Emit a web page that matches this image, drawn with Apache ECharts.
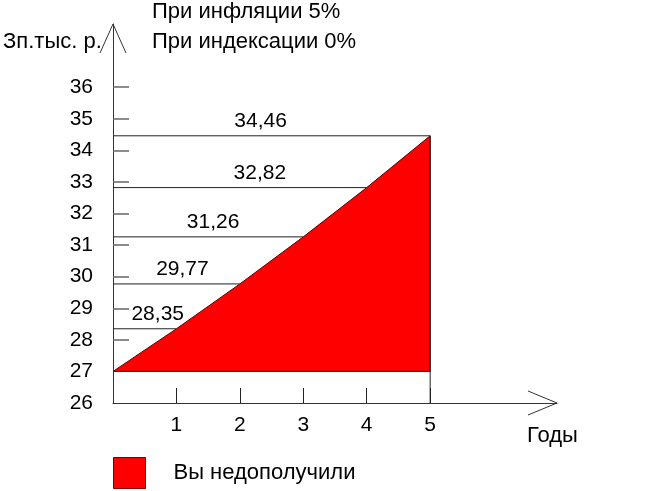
<!DOCTYPE html>
<html><head><meta charset="utf-8">
<script src="https://cdn.jsdelivr.net/npm/echarts@6/dist/echarts.min.js"></script>
<style>html,body{margin:0;padding:0;background:#fff}#c{width:650px;height:491px}</style>
</head><body><div id="c"></div>
<script>
// ---- data ----
const years = [0, 1, 2, 3, 4, 5];
const salary = [27, 28.35, 29.77, 31.26, 32.82, 34.46];
const valueLabels = ['', '28,35', '29,77', '31,26', '32,82', '34,46'];
const yTickLabels = [26, 27, 28, 29, 30, 31, 32, 33, 34, 35, 36];
const yTickMarks = [28, 29, 30, 31, 32, 33, 34, 35, 36];
const xTickLabels = [1, 2, 3, 4, 5];
const subtitle1 = 'При инфляции 5%';
const subtitle2 = 'При индексации 0%';
const yName = 'Зп.тыс. р.';
const xName = 'Годы';
const legendName = 'Вы недополучили';

// ---- styles ----
const FONT = "'Liberation Sans', Arial, sans-serif";
const labelDx = [0, 13, 6, 5, 20, -11];
const chart = echarts.init(document.getElementById('c'), null, {renderer: 'canvas'});

const levelData = years.map((y, i) => [y, salary[i]]).slice(1);

chart.setOption({
  animation: false,
  grid: {left: 113, right: 93, top: 24, bottom: 88},
  xAxis: {
    type: 'value', min: 0, max: 7, interval: 1,
    axisLine: {lineStyle: {color: '#333', width: 1}},
    axisTick: {inside: true, length: 15, customValues: xTickLabels, lineStyle: {color: '#222'}},
    axisLabel: {customValues: xTickLabels, margin: 12, fontSize: 21, color: '#000', fontFamily: FONT},
    splitLine: {show: false}
  },
  yAxis: {
    type: 'value', min: 26, max: 38, interval: 1,
    axisLine: {show: true, lineStyle: {color: '#333', width: 1}},
    axisTick: {show: true, inside: true, length: 16, customValues: yTickMarks, lineStyle: {color: '#666', width: 1.5}},
    axisLabel: {customValues: yTickLabels, margin: 20, fontSize: 21, color: '#000', fontFamily: FONT},
    splitLine: {show: false}
  },
  legend: {
    left: 108, top: 452, itemWidth: 32, itemHeight: 31,
    data: [{name: legendName, icon: 'rect', itemStyle: {color: '#ff0000', borderColor: '#7a0000', borderWidth: 1}}],
    textStyle: {fontSize: 22, color: '#000', fontFamily: FONT, padding: [0, 0, 0, 23]}
  },
  graphic: [
    {type: 'text', left: 152, top: 1, style: {text: subtitle1, fill: '#000', font: '22px ' + FONT}},
    {type: 'text', left: 152, top: 31, style: {text: subtitle2, fill: '#000', font: '22px ' + FONT}},
    {type: 'text', left: 3, top: 31, style: {text: yName, fill: '#000', font: '22px ' + FONT}},
    {type: 'text', left: 527, top: 425, style: {text: xName, fill: '#000', font: '22px ' + FONT}}
  ],
  series: [
    {
      name: legendName, type: 'custom', z: 2,
      data: [[0, 27]],
      renderItem: function (params, api) {
        const pts = years.map((y, i) => api.coord([y, salary[i]]));
        const last = years[years.length - 1];
        pts.push(api.coord([last, salary[0]]));
        const b0 = api.coord([0, salary[0]]);
        const b1 = api.coord([last, salary[0]]);
        const v0 = api.coord([last, 26]);
        const v1 = api.coord([last, salary[salary.length - 1]]);
        return {type: 'group', children: [
          {type: 'polygon', shape: {points: pts}, style: {fill: '#ff0000', stroke: '#5a0000', lineWidth: 1}},
          {type: 'line', shape: {x1: b0[0], y1: b0[1], x2: b1[0], y2: b1[1]}, style: {stroke: '#4a2020', lineWidth: 1}},
          {type: 'line', shape: {x1: v0[0], y1: v0[1], x2: v1[0], y2: v1[1]}, style: {stroke: '#222', lineWidth: 1}}
        ]};
      }
    },
    {
      name: 'levels', type: 'custom', z: 3,
      data: levelData,
      renderItem: function (params, api) {
        const yr = api.value(0), v = api.value(1);
        const i = params.dataIndex + 1;
        const p0 = api.coord([0, v]);
        const p1 = api.coord([yr, v]);
        return {type: 'group', children: [
          {type: 'line', shape: {x1: p0[0], y1: p0[1], x2: p1[0], y2: p1[1]}, style: {stroke: '#222', lineWidth: 1}},
          {type: 'text', x: (p0[0] + p1[0]) / 2 + labelDx[i], y: p0[1] - 4,
           style: {text: valueLabels[i], fill: '#000', font: '21px ' + FONT, textAlign: 'center', textVerticalAlign: 'bottom'}}
        ]};
      }
    },
    {
      name: 'arrows', type: 'custom', z: 4,
      data: [[0, 38, 0], [7, 26, 1]],
      renderItem: function (params, api) {
        const p = api.coord([api.value(0), api.value(1)]);
        const horiz = api.value(2) === 1;
        const pts = horiz
          ? [[p[0] - 29, p[1] - 12], [p[0], p[1]], [p[0] - 29, p[1] + 12]]
          : [[p[0] - 13, p[1] + 29], [p[0], p[1]], [p[0] + 13, p[1] + 29]];
        return {type: 'polyline', shape: {points: pts}, style: {stroke: '#333', lineWidth: 1, fill: null}};
      }
    }
  ]
});
</script></body></html>
